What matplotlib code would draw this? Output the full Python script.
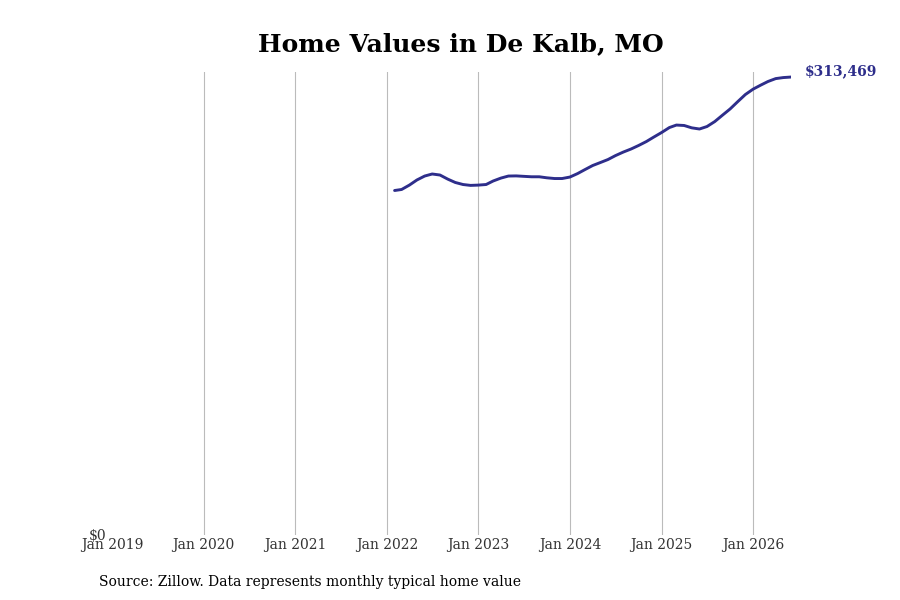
import numpy as np
import pandas as pd
import matplotlib
matplotlib.use('Agg')
import matplotlib.pyplot as plt

# 月度房价数据 (Feb 2022 - Jun 2026)
dates = pd.date_range('2022-02-01', '2026-06-01', freq='MS')
values = [
    235800, 236500, 239500, 243000, 245700, 247100, 246400, 243600, 241300, 239900, 239300,
    239500, 239900, 242300, 244300, 245700, 245800, 245500, 245200, 245200, 244500, 244000, 244000,
    245000, 247400, 250100, 252900, 254900, 257000, 259700, 262100, 264200, 266600, 269300, 272400,
    275500, 278900, 280600, 280300, 278700, 277900, 279600, 283000, 287400, 291600, 296700, 301500,
    305200, 308000, 310400, 312400, 313100, 313469,
]
title = 'Home Values in De Kalb, MO'
source = 'Source: Zillow. Data represents monthly typical home value'
tick_years = list(range(2019, 2027))
tick_labels = ['Jan %d' % y for y in tick_years]

line_color = '#2e2e8b'
plt.rcParams['font.family'] = 'DejaVu Serif'

fig = plt.figure(figsize=(9, 6), dpi=100)
ax = fig.add_axes([112 / 900, 1 - 535 / 600, (791 - 112) / 900, (535 - 72) / 600])

ax.plot(dates, values, color=line_color, linewidth=2.1, solid_capstyle='round')

ax.set_xlim(pd.Timestamp('2019-01-01'), dates[-1])
ax.set_ylim(0, values[-1] * 1.011)

ax.set_xticks([pd.Timestamp('%d-01-01' % y) for y in tick_years])
ax.set_xticklabels(tick_labels, fontsize=10, color='#333333')
ax.set_yticks([0])
ax.set_yticklabels(['$0'], fontsize=10, color='#333333')
ax.tick_params(axis='both', length=0)
ax.tick_params(axis='x', pad=2)
ax.tick_params(axis='y', pad=4)

ax.grid(axis='x', color='#bbbbbb', linewidth=0.8)
ax.set_axisbelow(True)
# 第一条网格线(Jan 2019)在原图中不可见
ax.get_xgridlines()[0].set_visible(False)
for s in ax.spines.values():
    s.set_visible(False)

ax.annotate('$%s' % format(values[-1], ','), xy=(dates[-1], values[-1]),
            xytext=(10, 4), textcoords='offset points', ha='left', va='center',
            fontsize=10, fontweight='bold', color=line_color)

fig.text(461 / 900, 1 - 44 / 600, title, ha='center', va='center',
         fontsize=18, fontweight='bold')
fig.text(99 / 900, 1 - 582 / 600, source, ha='left', va='center', fontsize=10)

fig.savefig('out.png', dpi=100)
